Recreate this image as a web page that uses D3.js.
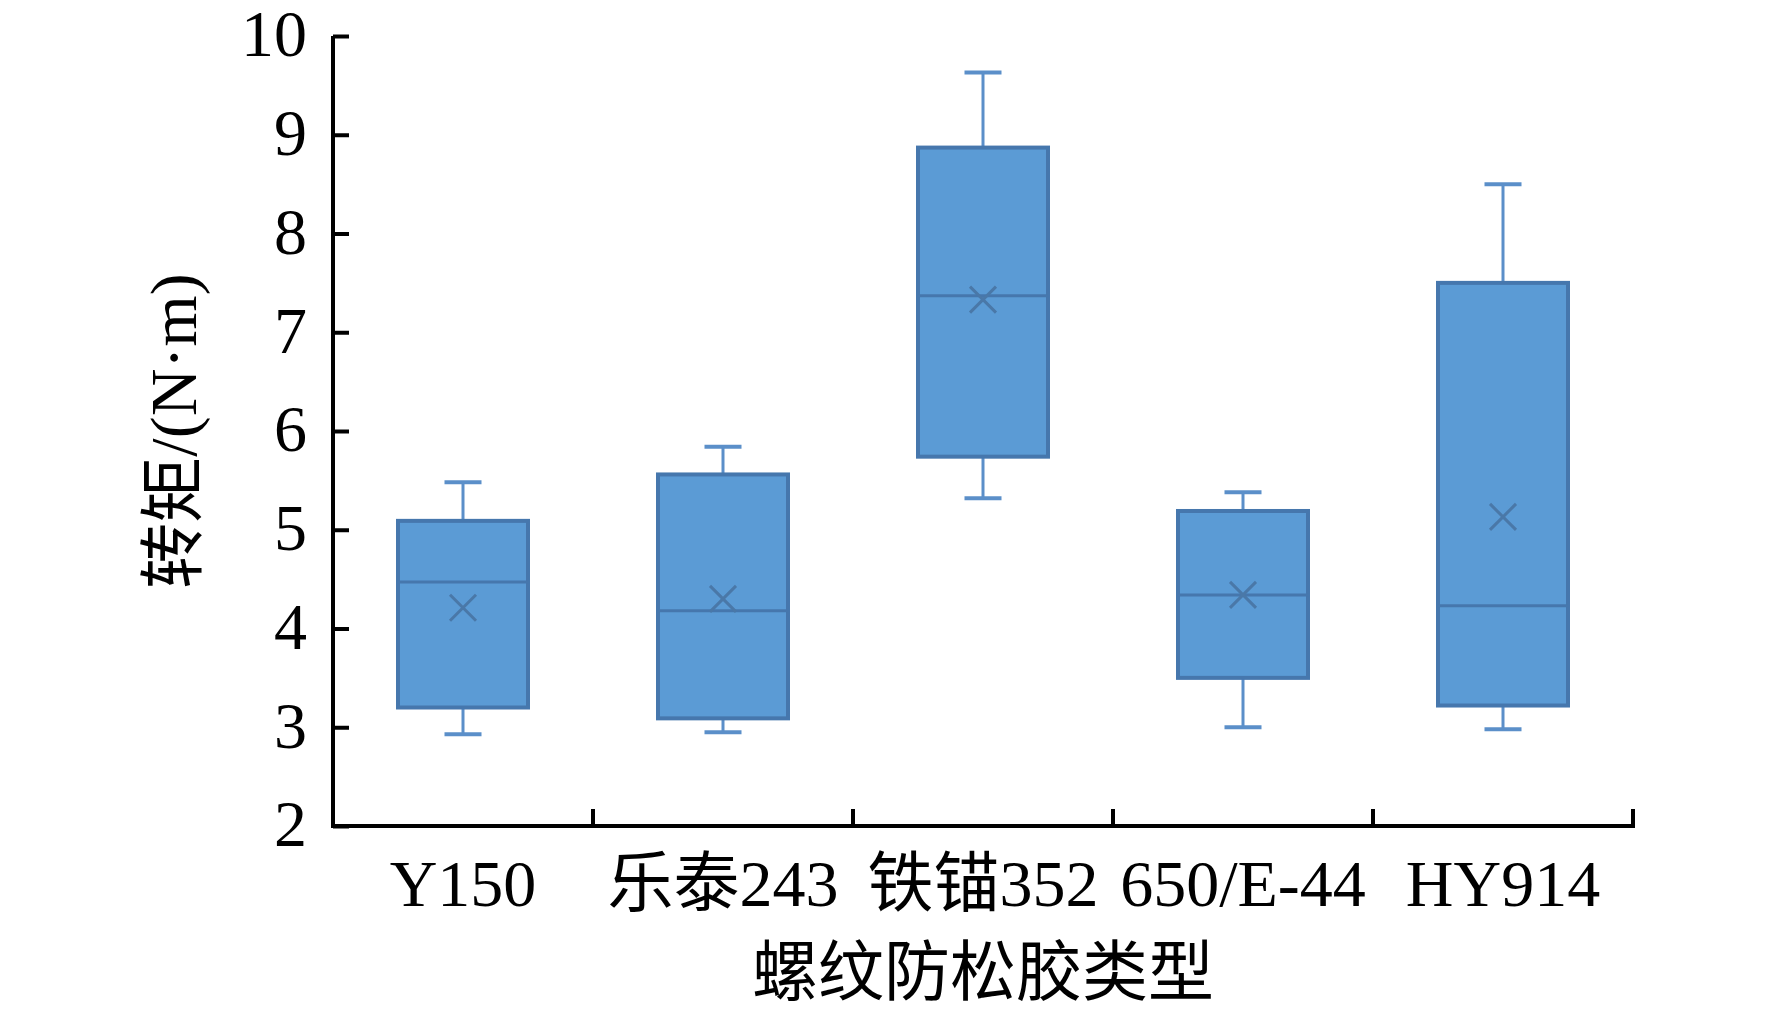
<!DOCTYPE html>
<html lang="zh">
<head>
    <meta charset="UTF-8">
    <title>螺纹防松胶类型 - 转矩箱线图</title>

    <script src="https://d3js.org/d3.v7.min.js"></script>

    <style>
        body {
            margin: 0;
            background: #ffffff;
        }
        text {
            font-family: "Liberation Serif", "Noto Sans CJK SC", serif;
            fill: #000000;
        }
        .tick_label {
            font-size: 66px;
        }
        .axis_title {
            font-size: 66px;
        }
    </style>
</head>

<body>
<svg width="1772" height="1014"></svg>

<script>

    // glue types (categories)
    const categories = ["Y150", "乐泰243", "铁锚352", "650/E-44", "HY914"];

    // box plot statistics, torque in N·m
    const whiskerLow  = [2.93, 2.95, 5.32, 3.00, 2.98];
    const q1          = [3.20, 3.09, 5.74, 3.50, 3.22];
    const median      = [4.47, 4.18, 7.37, 4.34, 4.23];
    const q3          = [5.09, 5.56, 8.87, 5.19, 7.50];
    const whiskerHigh = [5.48, 5.84, 9.63, 5.38, 8.50];
    const mean        = [4.21, 4.30, 7.33, 4.34, 5.13];

    // y axis ticks
    const yTicks = [2, 3, 4, 5, 6, 7, 8, 9, 10];

    const xTitle = "螺纹防松胶类型";
    const yTitle = "转矩/(N·m)";

    let svg = d3.select("svg");

    // plot area
    const plotLeft = 333, plotRight = 1633, plotTop = 36, plotBottom = 826;

    let x = d3.scaleBand()
        .domain(categories)
        .range([plotLeft, plotRight])
        .paddingInner(0)
        .paddingOuter(0);

    let y = d3.scaleLinear()
        .domain([2, 10])
        .range([plotBottom, plotTop]);

    // combine the stats into rows for the boxes
    let rows = categories.map(function (c, i) {
        return {
            name: c,
            lo: whiskerLow[i], q1: q1[i], med: median[i],
            q3: q3[i], hi: whiskerHigh[i], mean: mean[i]
        };
    });

    const boxW = x.bandwidth() * 0.5;
    const capW = 37;
    const whiskerColor = "#5b8fc9";
    const boxFill = "#5b9bd5";
    const boxStroke = "#4677ad";

    let boxes = svg.append("g").attr("class", "boxes")
        .selectAll("g")
        .data(rows)
        .enter()
        .append("g")
        .attr("transform", function (d) {
            return "translate(" + (x(d.name) + x.bandwidth() / 2) + ",0)";
        });

    // whiskers
    boxes.append("line")
        .attr("x1", 0).attr("x2", 0)
        .attr("y1", function (d) { return y(d.hi); })
        .attr("y2", function (d) { return y(d.q3); })
        .attr("stroke", whiskerColor).attr("stroke-width", 3);
    boxes.append("line")
        .attr("x1", 0).attr("x2", 0)
        .attr("y1", function (d) { return y(d.q1); })
        .attr("y2", function (d) { return y(d.lo); })
        .attr("stroke", whiskerColor).attr("stroke-width", 3);

    // whisker caps
    boxes.append("line")
        .attr("x1", -capW / 2).attr("x2", capW / 2)
        .attr("y1", function (d) { return y(d.hi); })
        .attr("y2", function (d) { return y(d.hi); })
        .attr("stroke", whiskerColor).attr("stroke-width", 4);
    boxes.append("line")
        .attr("x1", -capW / 2).attr("x2", capW / 2)
        .attr("y1", function (d) { return y(d.lo); })
        .attr("y2", function (d) { return y(d.lo); })
        .attr("stroke", whiskerColor).attr("stroke-width", 4);

    // box body
    boxes.append("rect")
        .attr("x", -boxW / 2)
        .attr("width", boxW)
        .attr("y", function (d) { return y(d.q3); })
        .attr("height", function (d) { return y(d.q1) - y(d.q3); })
        .attr("fill", boxFill)
        .attr("stroke", boxStroke)
        .attr("stroke-width", 4);

    // median
    boxes.append("line")
        .attr("x1", -boxW / 2).attr("x2", boxW / 2)
        .attr("y1", function (d) { return y(d.med); })
        .attr("y2", function (d) { return y(d.med); })
        .attr("stroke", boxStroke).attr("stroke-width", 3);

    // mean marker (x)
    const m = 13;
    boxes.append("path")
        .attr("d", function (d) {
            let cy = y(d.mean);
            return "M" + (-m) + "," + (cy - m) + "L" + m + "," + (cy + m) +
                   "M" + m + "," + (cy - m) + "L" + (-m) + "," + (cy + m);
        })
        .attr("stroke", "#4a78a8")
        .attr("stroke-width", 3)
        .attr("fill", "none");

    // y axis, ticks pointing inward
    let yAxis = svg.append("g")
        .attr("transform", "translate(" + plotLeft + ",0)")
        .call(d3.axisLeft(y)
            .tickValues(yTicks)
            .tickFormat(d3.format("d"))
            .tickSizeInner(-16)
            .tickSizeOuter(0)
            .tickPadding(26));
    yAxis.select(".domain").attr("stroke", "#000").attr("stroke-width", 4)
        .attr("d", "M0," + plotTop + "V" + (plotBottom + 2));
    yAxis.selectAll(".tick line").attr("stroke", "#000").attr("stroke-width", 4);
    yAxis.selectAll(".tick text")
        .attr("class", "tick_label")
        .attr("dy", "0.3em");

    // x axis with labels at band centres
    let xAxis = svg.append("g")
        .attr("transform", "translate(0," + plotBottom + ")")
        .call(d3.axisBottom(x).tickSize(0).tickPadding(60));
    xAxis.select(".domain").attr("stroke", "#000").attr("stroke-width", 4)
        .attr("d", "M" + (plotLeft - 2) + ",0H" + (plotRight + 2));
    xAxis.selectAll(".tick text")
        .attr("class", "tick_label")
        .attr("dy", "0.3em");

    // category separators, drawn at the band edges
    let edges = d3.range(categories.length).map(function (i) {
        return x(categories[i]) + x.bandwidth();
    });
    xAxis.selectAll(".edge")
        .data(edges)
        .enter()
        .append("line")
        .attr("class", "edge")
        .attr("x1", function (d) { return d; })
        .attr("x2", function (d) { return d; })
        .attr("y1", 0)
        .attr("y2", -17)
        .attr("stroke", "#000")
        .attr("stroke-width", 4);

    // axis titles
    svg.append("text")
        .attr("class", "axis_title")
        .attr("x", (plotLeft + plotRight) / 2)
        .attr("y", 995)
        .attr("text-anchor", "middle")
        .text(xTitle);

    svg.append("text")
        .attr("class", "axis_title")
        .attr("transform", "translate(196," + ((plotTop + plotBottom) / 2) + ") rotate(-90)")
        .attr("text-anchor", "middle")
        .text(yTitle);

</script>
</body>
</html>
